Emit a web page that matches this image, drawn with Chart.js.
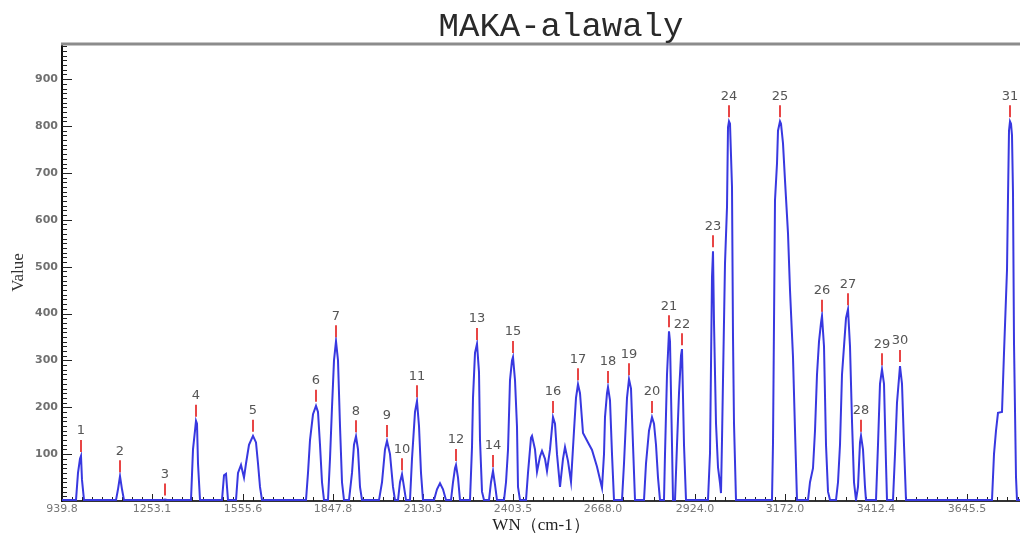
<!DOCTYPE html>
<html><head><meta charset="utf-8">
<script src="https://cdn.jsdelivr.net/npm/chart.js@4/dist/chart.umd.min.js"></script>
<style>html,body{margin:0;padding:0;background:#fff;overflow:hidden}canvas{display:block}</style>
</head><body>
<canvas id="c" width="1020" height="536"></canvas>
<script>
const chartTitle = 'MAKA-alawaly';
const xAxisTitle = 'WN（cm-1）';
const yAxisTitle = 'Value';
// x tick labels (wavenumber) and their scan-index positions
const tickLabels = ['939.8','1253.1','1555.6','1847.8','2130.3','2403.5','2668.0','2924.0','3172.0','3412.4','3645.5'];
const tickPositions = [0,90,181,271,361,451,541,633,723,814,905];
// spectrum: scan index and intensity
const scanIndex = [
  0,
  14,16,18,19,20,22,
  54,56,58,60,62,
  101,103,105,
  129,131,133,134,135,136,138,
  160,162,164,166,
  174,176,179,182,184,187,191,194,196,198,200,
  244,246,248,251,254,256,258,260,262,
  266,268,270,272,274,276,278,280,282,
  287,290,292,294,296,298,300,
  317,320,323,325,328,331,333,
  336,338,340,342,344,
  348,350,353,355,357,359,361,
  372,375,378,381,384,
  389,391,393,394,396,398,
  408,410,411,413,415,417,418,420,422,
  427,429,431,433,435,
  442,444,446,448,450,451,453,455,456,458,
  464,466,469,470,473,475,478,480,483,485,488,491,493,495,498,501,503,506,509,512,514,516,518,521,526,530,535,540,
  542,543,545,546,548,550,552,
  560,562,565,567,569,571,573,
  582,584,587,590,592,594,596,598,
  602,603,605,607,608,610,611,
  613,615,617,619,620,622,624,
  646,648,650,651,652,654,656,658,659,
  660,661,663,665,666,667,668,670,671,672,674,
  710,711,712,713,715,716,718,719,721,723,726,728,731,733,735,
  746,748,751,753,755,757,759,760,762,764,766,768,
  774,776,778,780,782,784,786,788,790,792,794,
  796,798,799,801,803,804,
  814,816,818,820,822,824,825,
  831,833,835,838,840,842,844,
  930,932,934,936,940,942,945,946,947,948,949,950,951,952,954,955,958
];
const intensity = [
  2,
  2,60,90,96,45,2,
  2,25,53,25,2,
  2,3,2,
  2,110,150,171,165,80,2,
  2,55,58,2,
  2,60,77,50,80,120,139,125,80,30,2,
  2,60,130,185,203,190,120,40,2,
  2,90,200,300,341,300,160,40,2,
  2,60,120,138,110,30,2,
  2,40,110,128,100,30,2,
  2,40,57,30,2,
  2,90,190,213,160,60,2,
  2,25,38,25,2,
  2,40,70,77,50,2,
  2,115,220,316,335,275,130,20,2,
  2,40,64,35,2,
  2,40,109,258,300,307,258,158,30,2,
  2,60,135,139,110,62,95,107,90,64,110,179,165,100,30,90,115,85,41,150,220,249,230,145,125,109,73,28,
  100,179,230,243,215,100,2,
  2,80,220,260,240,120,2,
  2,80,150,179,165,120,50,2,
  2,100,270,362,340,120,2,
  2,120,230,310,324,120,2,
  2,102,478,533,380,166,72,38,17,
  130,258,507,627,797,810,805,670,350,166,2,
  2,124,380,642,720,790,810,805,763,684,571,450,307,151,2,
  2,40,70,150,270,340,380,395,330,120,20,2,
  2,40,120,270,330,390,409,330,170,40,2,
  30,125,139,110,30,2,
  2,120,250,281,250,80,2,
  2,100,210,288,250,120,2,
  2,100,150,188,190,316,493,648,790,810,805,780,657,337,51,2,2
];
// labelled peaks
const peakNumbers = [1,2,3,4,5,6,7,8,9,10,11,12,13,14,15,16,17,18,19,20,21,22,23,24,25,26,27,28,29,30,31];
const peakIndex = [19,58,103,134,191,254,274,294,325,340,355,394,415,431,451,491,516,546,567,590,607,620,651,667,718,760,786,799,820,838,948];
const peakIntensity = [96,53,3,171,139,203,341,138,128,57,213,77,335,64,307,179,249,243,260,179,362,324,533,810,810,395,409,139,281,288,810];

const decor = {
  id: 'decor',
  beforeDatasetsDraw(chart) {
    const {ctx, chartArea: a, scales: {x, y}} = chart;
    ctx.save();
    ctx.strokeStyle = '#222'; ctx.lineWidth = 1;
    for (let v = 10; v <= y.max; v += 10) {
      const py = Math.round(y.getPixelForValue(v)) + 0.5;
      const len = v % 100 === 0 ? 10 : 5;
      ctx.beginPath(); ctx.moveTo(a.left, py); ctx.lineTo(a.left + len, py); ctx.stroke();
    }
    for (let i = 0; i < tickPositions.length; i++) {
      const step = i < tickPositions.length - 1 ? tickPositions[i+1] - tickPositions[i] : tickPositions[i] - tickPositions[i-1];
      for (let k = 0; k < 9; k++) {
        const v = tickPositions[i] + step * k / 9;
        if (v > x.max) break;
        const px = Math.round(x.getPixelForValue(v)) + 0.5;
        const len = k === 0 ? 7 : 4;
        ctx.beginPath(); ctx.moveTo(px, a.bottom); ctx.lineTo(px, a.bottom - len); ctx.stroke();
      }
    }
    ctx.restore();
  },
  afterDraw(chart) {
    const {ctx, chartArea: a, scales: {x, y}} = chart;
    ctx.save();
    ctx.strokeStyle = '#8c8c8c'; ctx.lineWidth = 3;
    ctx.beginPath(); ctx.moveTo(a.left - 1, a.top); ctx.lineTo(chart.width, a.top); ctx.stroke();
    ctx.font = '13px "DejaVu Sans"'; ctx.textAlign = 'center'; ctx.textBaseline = 'middle';
    for (let i = 0; i < peakNumbers.length; i++) {
      const px = x.getPixelForValue(peakIndex[i]);
      const py = y.getPixelForValue(peakIntensity[i]);
      ctx.strokeStyle = '#e84545'; ctx.lineWidth = 2;
      ctx.beginPath(); ctx.moveTo(px, py - 16); ctx.lineTo(px, py - 4); ctx.stroke();
      ctx.fillStyle = '#555';
      ctx.fillText(String(peakNumbers[i]), px, py - 25);
    }
    ctx.fillStyle = '#2a2a2a';
    ctx.font = '34px "Liberation Mono"';
    ctx.textBaseline = 'alphabetic';
    ctx.fillText(chartTitle, 561, 36);
    ctx.restore();
  }
};

new Chart(document.getElementById('c'), {
  type: 'line',
  data: {
    datasets: [{
      data: scanIndex.map((v, i) => ({x: v, y: intensity[i]})),
      borderColor: '#3838e0',
      borderWidth: 2,
      pointRadius: 0,
      tension: 0,
      fill: false
    }]
  },
  options: {
    responsive: false,
    animation: false,
    layout: {padding: {top: 44, right: 0, left: 0, bottom: 0}},
    plugins: {legend: {display: false}, tooltip: {enabled: false}, title: {display: false}},
    scales: {
      x: {
        type: 'linear', min: 0, max: 958,
        afterFit: s => { s.height = 35; },
        afterBuildTicks: s => { s.ticks = tickPositions.map(v => ({value: v})); },
        ticks: {
          autoSkip: false, maxRotation: 0, padding: 2,
          callback: (v, i) => tickLabels[i],
          color: '#777', font: {family: 'DejaVu Sans', size: 11}
        },
        grid: {drawOnChartArea: false, drawTicks: false},
        border: {display: true, color: '#333', width: 2},
        title: {display: true, text: xAxisTitle, color: '#222', font: {family: 'Liberation Serif', size: 17}, padding: 0}
      },
      y: {
        type: 'linear', min: 0, max: 975,
        afterFit: s => { s.width = 62; },
        ticks: {
          stepSize: 100, includeBounds: false, padding: 4,
          callback: v => (v === 0 ? '' : String(v)),
          color: '#707070', font: {family: 'DejaVu Sans', size: 11, weight: 'bold'}
        },
        grid: {drawOnChartArea: false, drawTicks: false},
        border: {display: true, color: '#111', width: 2},
        title: {display: true, text: yAxisTitle, color: '#333', font: {family: 'Liberation Serif', size: 17}, padding: {top: 8, bottom: 0}}
      }
    }
  },
  plugins: [decor]
});
</script>
</body></html>
